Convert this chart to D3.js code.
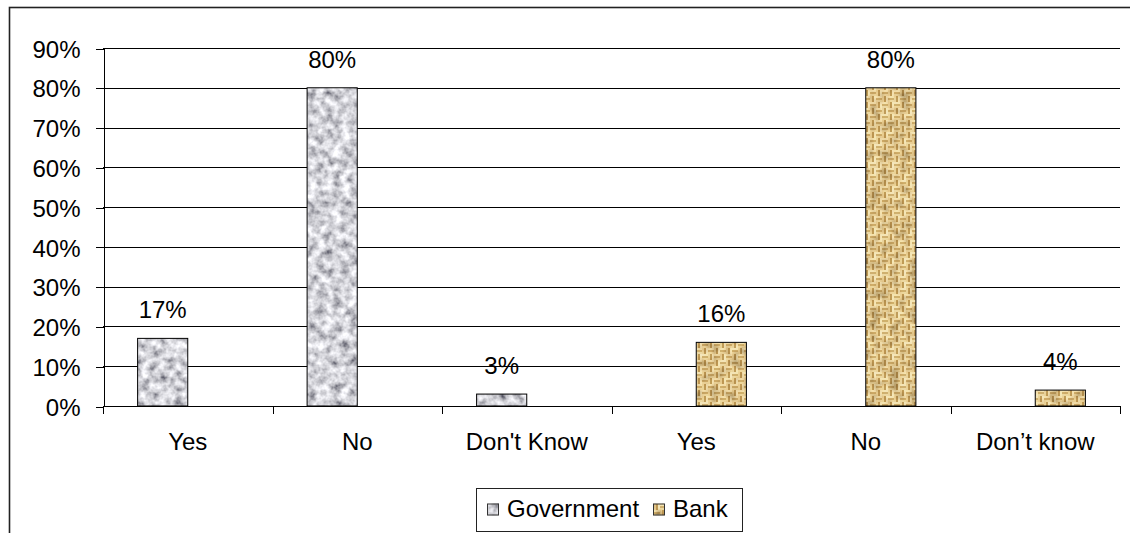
<!DOCTYPE html>
<html>
<head>
<meta charset="utf-8">
<script src="https://cdn.jsdelivr.net/npm/d3@7"></script>
<style>
  html, body { margin: 0; padding: 0; background: #fff; }
  svg { display: block; font-family: "Liberation Sans", Arial, sans-serif; }
</style>
</head>
<body>
<svg id="chart" width="1130" height="533"></svg>
<script>
// Survey answers, split by who was asked
const categories = ["Yes", "No", "Don't Know", "Yes", "No", "Don’t know"];
const seriesNames = ["Government", "Bank"];
const government = [17, 80, 3, null, null, null];
const bank = [null, null, null, 16, 80, 4];
const yTicks = [0, 10, 20, 30, 40, 50, 60, 70, 80, 90];

const svg = d3.select("#chart");
const W = 1130, H = 533;
const plot = { left: 103, right: 1120, top: 48, bottom: 406 };
const fontSize = 24;

// ---- textures -------------------------------------------------------
const defs = svg.append("defs");

// grey granite noise, clipped to the shape it is applied to
const granite = defs.append("filter").attr("id", "granite")
  .attr("x", 0).attr("y", 0).attr("width", 1).attr("height", 1)
  .attr("filterUnits", "objectBoundingBox");
granite.append("feTurbulence").attr("type", "fractalNoise")
  .attr("baseFrequency", 0.12).attr("numOctaves", 3).attr("seed", 7).attr("result", "noise");
granite.append("feColorMatrix").attr("in", "noise").attr("type", "matrix")
  .attr("values", "1.4 0 0 0 -0.05  1.4 0 0 0 -0.05  1.4 0 0 0 -0.01  0 0 0 0 1")
  .attr("result", "grey");
granite.append("feGaussianBlur").attr("in", "grey").attr("stdDeviation", 0.5).attr("result", "soft");
granite.append("feComposite").attr("in", "soft").attr("in2", "SourceGraphic").attr("operator", "in");

// woven burlap tile
const weave = defs.append("pattern").attr("id", "weave")
  .attr("patternUnits", "userSpaceOnUse").attr("width", 12).attr("height", 12);
weave.append("rect").attr("width", 12).attr("height", 12).attr("fill", "#e0c68c");
const strands = [
  // horizontal strands, top-left and bottom-right blocks
  [0, 0, 6, 2, "#f4e4b6"], [0, 2, 6, 2, "#cfb070"], [0, 4, 6, 2, "#ecd8a4"],
  [6, 6, 6, 2, "#f4e4b6"], [6, 8, 6, 2, "#cfb070"], [6, 10, 6, 2, "#ecd8a4"],
  // vertical strands, top-right and bottom-left blocks
  [6, 0, 2, 6, "#ead39c"], [8, 0, 2, 6, "#bf9c5a"], [10, 0, 2, 6, "#f4e6bc"],
  [0, 6, 2, 6, "#ead39c"], [2, 6, 2, 6, "#bf9c5a"], [4, 6, 2, 6, "#f4e6bc"]
];
weave.selectAll("rect.s").data(strands).join("rect").attr("class", "s")
  .attr("x", d => d[0]).attr("y", d => d[1]).attr("width", d => d[2]).attr("height", d => d[3])
  .attr("fill", d => d[4]);

// a little mottling on top of the weave
const burlap = defs.append("filter").attr("id", "burlap")
  .attr("x", 0).attr("y", 0).attr("width", 1).attr("height", 1)
  .attr("filterUnits", "objectBoundingBox");
burlap.append("feTurbulence").attr("type", "fractalNoise")
  .attr("baseFrequency", 0.1).attr("numOctaves", 2).attr("seed", 3).attr("result", "noise");
burlap.append("feColorMatrix").attr("in", "noise").attr("type", "matrix")
  .attr("values", "1.1 0 0 0 0.38  1.1 0 0 0 0.32  1.1 0 0 0 0.22  0 0 0 0 1")
  .attr("result", "tint");
burlap.append("feBlend").attr("in", "SourceGraphic").attr("in2", "tint").attr("mode", "multiply").attr("result", "mix");
burlap.append("feComposite").attr("in", "mix").attr("in2", "SourceGraphic").attr("operator", "in");

const seriesStyle = {
  Government: { fill: "#aaa", filter: "url(#granite)" },
  Bank: { fill: "url(#weave)", filter: "url(#burlap)" }
};

// ---- outer frame ----------------------------------------------------
svg.append("rect").attr("x", 9.5).attr("y", 7.5).attr("width", W + 20).attr("height", H + 20)
  .attr("fill", "none").attr("stroke", "#222").attr("stroke-width", 1.6);

// ---- scales ---------------------------------------------------------
const x = d3.scaleBand().domain(d3.range(categories.length))
  .range([plot.left, plot.right]).paddingInner(0).paddingOuter(0);
const xs = d3.scaleBand().domain(seriesNames).range([0, x.bandwidth()])
  .paddingInner(0).paddingOuter(0.69);
const y = d3.scaleLinear().domain([0, 90]).range([plot.bottom, plot.top]);

// ---- gridlines & y axis ---------------------------------------------
const gY = svg.append("g").attr("shape-rendering", "crispEdges");
gY.selectAll("line.grid").data(yTicks.filter(t => t > 0)).join("line").attr("class", "grid")
  .attr("x1", plot.left).attr("x2", plot.right)
  .attr("y1", d => Math.round(y(d)) + 0.5).attr("y2", d => Math.round(y(d)) + 0.5)
  .attr("stroke", "#000").attr("stroke-width", 1);

const yAxis = d3.axisLeft(y).tickValues(yTicks).tickFormat(d => d + "%")
  .tickSizeInner(8).tickSizeOuter(0).tickPadding(15);
const ya = svg.append("g").attr("transform", `translate(${plot.left + 0.5},0.5)`).call(yAxis);
ya.select(".domain").attr("stroke", "#000").attr("shape-rendering", "crispEdges");
ya.selectAll(".tick line").attr("stroke", "#000").attr("shape-rendering", "crispEdges");
ya.selectAll(".tick text").attr("font-size", fontSize).attr("fill", "#000")
  .attr("font-family", "Liberation Sans, Arial, sans-serif").attr("dy", "0.36em");

// ---- bars -----------------------------------------------------------
const rows = [];
categories.forEach((c, i) => {
  [["Government", government[i]], ["Bank", bank[i]]].forEach(([s, v]) => {
    if (v != null) rows.push({ i, s, v });
  });
});

const bars = svg.append("g");
bars.selectAll("rect").data(rows).join("rect")
  .attr("x", d => x(d.i) + xs(d.s))
  .attr("y", d => y(d.v))
  .attr("width", xs.bandwidth())
  .attr("height", d => y(0) - y(d.v))
  .attr("fill", d => seriesStyle[d.s].fill)
  .attr("filter", d => seriesStyle[d.s].filter);
bars.selectAll("rect.edge").data(rows).join("rect").attr("class", "edge")
  .attr("x", d => x(d.i) + xs(d.s))
  .attr("y", d => y(d.v))
  .attr("width", xs.bandwidth())
  .attr("height", d => y(0) - y(d.v))
  .attr("fill", "none").attr("stroke", "#000").attr("stroke-width", 1);

// value labels
svg.append("g").selectAll("text").data(rows).join("text")
  .attr("x", d => x(d.i) + xs(d.s) + xs.bandwidth() / 2)
  .attr("y", d => y(d.v) - 20)
  .attr("text-anchor", "middle").attr("font-size", fontSize).attr("fill", "#000")
  .text(d => d.v + "%");

// ---- x axis ---------------------------------------------------------
const gx = svg.append("g").attr("shape-rendering", "crispEdges");
gx.append("line").attr("x1", plot.left).attr("x2", plot.right)
  .attr("y1", plot.bottom + 0.5).attr("y2", plot.bottom + 0.5).attr("stroke", "#000");
const bounds = d3.range(categories.length + 1).map(i => i < categories.length ? x(i) : plot.right);
gx.selectAll("line.tick").data(bounds).join("line").attr("class", "tick")
  .attr("x1", d => Math.round(d) + 0.5).attr("x2", d => Math.round(d) + 0.5)
  .attr("y1", plot.bottom).attr("y2", plot.bottom + 8).attr("stroke", "#000");
svg.append("g").selectAll("text").data(categories).join("text")
  .attr("x", (d, i) => x(i) + x.bandwidth() / 2)
  .attr("y", 450)
  .attr("text-anchor", "middle").attr("font-size", fontSize).attr("fill", "#000")
  .text(d => d);

// ---- legend ---------------------------------------------------------
const legend = svg.append("g");
legend.append("rect").attr("x", 476.5).attr("y", 488.5).attr("width", 266).attr("height", 43)
  .attr("fill", "#fff").attr("stroke", "#222").attr("stroke-width", 1);
const legendItems = [
  { s: "Government", sx: 487, tx: 507 },
  { s: "Bank", sx: 653, tx: 673 }
];
legendItems.forEach(it => {
  legend.append("rect").attr("x", it.sx).attr("y", 503.5).attr("width", 12).attr("height", 12)
    .attr("fill", seriesStyle[it.s].fill).attr("filter", seriesStyle[it.s].filter);
  legend.append("rect").attr("x", it.sx + 0.5).attr("y", 504).attr("width", 11).attr("height", 11)
    .attr("fill", "none").attr("stroke", "#333").attr("stroke-width", 1);
  legend.append("text").attr("x", it.tx).attr("y", 517)
    .attr("font-size", fontSize).attr("fill", "#000").text(it.s);
});
</script>
</body>
</html>
